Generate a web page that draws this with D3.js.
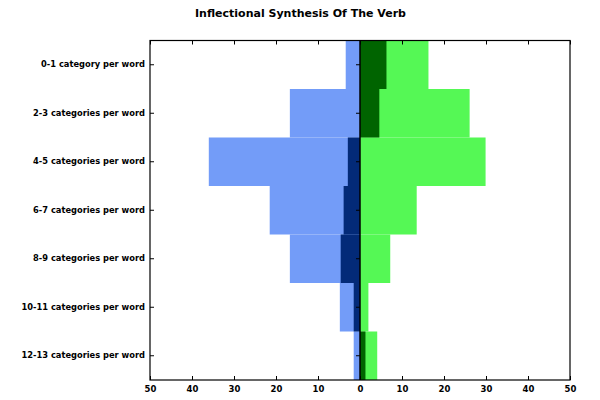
<!DOCTYPE html>
<html><head><meta charset="utf-8">
<script src="https://cdn.jsdelivr.net/npm/d3@7"></script>
<style>body{margin:0;background:#fff}svg{display:block}text{font-family:"DejaVu Sans",sans-serif;font-weight:bold}</style>
</head><body>
<svg id="c" width="600" height="400"></svg>
<script>
const categories = ["0-1 category per word","2-3 categories per word","4-5 categories per word","6-7 categories per word","8-9 categories per word","10-11 categories per word","12-13 categories per word"];
const leftTotal = [3.4, 16.7, 36.0, 21.5, 16.7, 4.8, 1.5];
const leftPart  = [0, 0, 2.9, 3.9, 4.6, 1.5, 0];
const rightTotal = [16.3, 26.1, 29.9, 13.5, 7.2, 2.0, 4.1];
const rightPart  = [6.3, 4.6, 0, 0, 0, 0, 1.3];
const xTicks = [-50,-40,-30,-20,-10,0,10,20,30,40,50];
const title = "Inflectional Synthesis Of The Verb";

const svg = d3.select("#c");
const L=150,R=570,T=40.5,B=380;
const x = d3.scaleLinear().domain([-50,50]).range([L,R]);
const y = d3.scaleBand().domain(categories).range([T,B]).paddingInner(0).paddingOuter(0);
const g = svg.append("g");
const bars = (vals, sign, color) => g.selectAll(null).data(categories).enter().append("rect")
  .attr("x", (d,i)=> sign<0 ? x(-vals[i]) : x(0))
  .attr("width", (d,i)=> Math.abs(x(vals[i]) - x(0)))
  .attr("y", d=>y(d)).attr("height", y.bandwidth()).attr("fill", color);
bars(leftTotal,-1,"#739cf8");
bars(leftPart,-1,"#032a78");
bars(rightTotal,1,"#55f855");
bars(rightPart,1,"#006400");

g.selectAll(null).data(categories).enter().append("line")
  .attr("x1",x(0)-4).attr("x2",x(0)).attr("y1",d=>y(d)+y.bandwidth()/2).attr("y2",d=>y(d)+y.bandwidth()/2)
  .attr("stroke","#000").attr("stroke-width",1);
g.append("line").attr("x1",x(0)).attr("x2",x(0)).attr("y1",T).attr("y2",B).attr("stroke","#000").attr("stroke-width",1.5);

svg.append("rect").attr("x",L).attr("y",T).attr("width",R-L).attr("height",B-T).attr("fill","none").attr("stroke","#000").attr("stroke-width",1.2);

const xb = svg.append("g").attr("transform",`translate(0,${B})`)
  .call(d3.axisBottom(x).tickValues(xTicks).tickFormat(d=>Math.abs(d)).tickSizeInner(-4).tickSizeOuter(0).tickPadding(6));
xb.select(".domain").remove();
xb.selectAll("text").attr("font-size","8.5px").attr("font-family","DejaVu Sans").attr("font-weight","bold").attr("fill","#000");
const xt = svg.append("g").attr("transform",`translate(0,${T})`)
  .call(d3.axisTop(x).tickValues(xTicks).tickFormat("").tickSizeInner(-4).tickSizeOuter(0));
xt.select(".domain").remove();

const ya = svg.append("g").attr("transform",`translate(${L},0)`)
  .call(d3.axisLeft(y).tickSizeInner(-4).tickSizeOuter(0).tickPadding(5));
ya.select(".domain").remove();
ya.selectAll("text").attr("font-size","8.3px").attr("font-family","DejaVu Sans").attr("font-weight","bold").attr("fill","#000");

svg.append("text").attr("x",300.5).attr("y",16.5).attr("text-anchor","middle").attr("font-size","11px").text(title);
</script>
</body></html>
